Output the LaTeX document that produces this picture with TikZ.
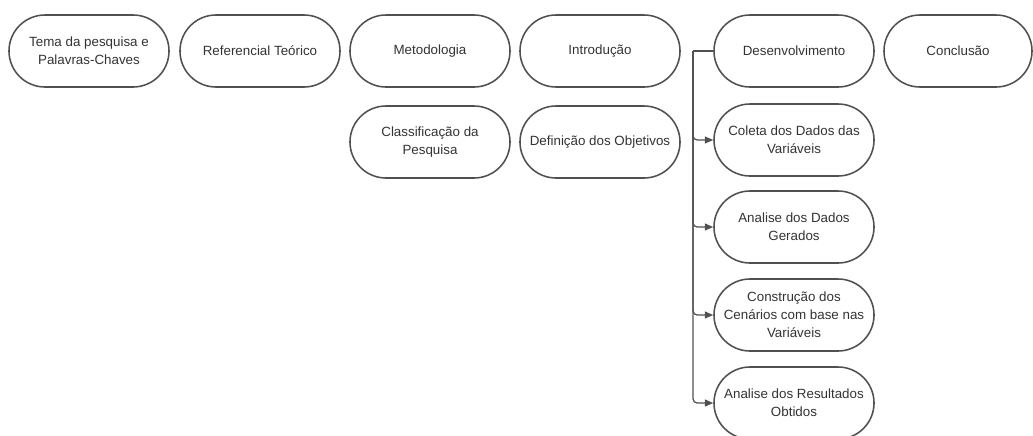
\documentclass[tikz,border=0pt]{standalone}
\usepackage{fontspec}
\setmainfont{Liberation Sans}
\usetikzlibrary{arrows.meta, positioning}
\definecolor{Ink}{HTML}{333333}
\definecolor{Edge}{HTML}{505050}

\begin{document}
\begin{tikzpicture}[
  x=0.025cm, y=-0.025cm,
  font=\fontsize{9.5}{12.8}\selectfont\color{Ink},
  pill/.style={draw=Edge, line width=1.1pt, rounded corners=0.9cm, align=center,
    minimum width=4cm, minimum height=1.8cm, inner sep=1pt, fill=white},
  arrow/.style={-{Triangle[length=6pt, width=5pt]}, line width=0.9pt, draw=Edge, rounded corners=3pt}
]
\clip (0,0) rectangle (1033,435);
\useasboundingbox (0,0) rectangle (1033,435);

% top row
\node[pill] (tema) at (89,51) {Tema da pesquisa e\\Palavras-Chaves};
\node[pill] (ref) at (260,51) {Referencial Teórico};
\node[pill] (metodo) at (430,51) {Metodologia};
\node[pill] (intro) at (600,51) {Introdução};
\node[pill] (dev) at (794,51) {Desenvolvimento};
\node[pill, minimum width=3.7cm] (concl) at (958,51) {Conclusão};

% second row
\node[pill] (classif) at (430,142) {Classificação da\\Pesquisa};
\node[pill] (objet) at (600,142) {Definição dos Objetivos};

% desenvolvimento steps
\node[pill] (coleta) at (794,140) {Coleta dos Dados das\\Variáveis};
\node[pill] (analise) at (794,227) {Analise dos Dados\\Gerados};
\node[pill] (cenario) at (794,315) {Construção dos\\Cenários com base nas\\Variáveis};
\node[pill] (result) at (794,403) {Analise dos Resultados\\Obtidos};

\coordinate (spine) at (693,51);
\draw[line width=0.9pt, draw=Edge] (dev.west) -- (spine);
\draw[arrow] (spine) |- (coleta.west);
\draw[arrow] (spine) |- (analise.west);
\draw[arrow] (spine) |- (cenario.west);
\draw[arrow] (spine) |- (result.west);
\end{tikzpicture}
\end{document}
